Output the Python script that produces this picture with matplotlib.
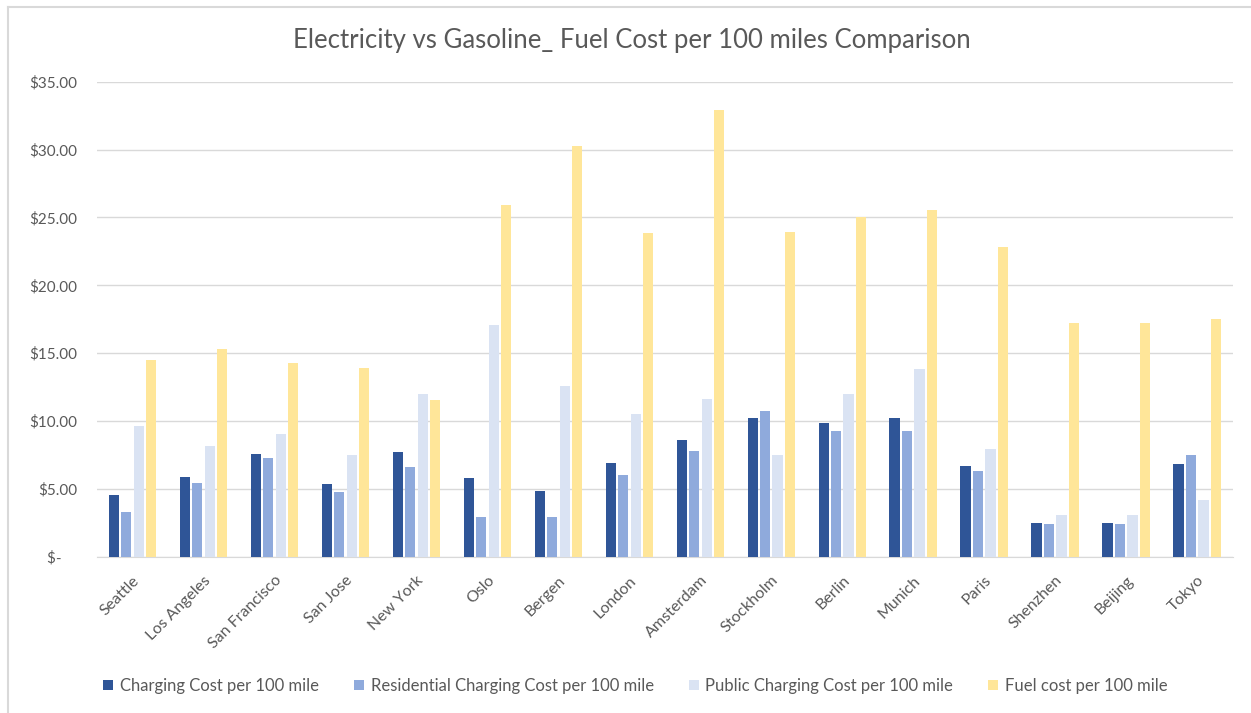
import matplotlib.pyplot as plt
from matplotlib.lines import Line2D
import numpy as np

plt.rcParams['font.family'] = ['Lato', 'DejaVu Sans']

cities = ['Seattle', 'Los Angeles', 'San Francisco', 'San Jose', 'New York', 'Oslo',
          'Bergen', 'London', 'Amsterdam', 'Stockholm', 'Berlin', 'Munich', 'Paris',
          'Shenzhen', 'Beijing', 'Tokyo']
charging = [4.54, 5.90, 7.59, 5.33, 7.69, 5.77, 4.86, 6.90, 8.62, 10.19, 9.83, 10.19,
            6.68, 2.51, 2.51, 6.80]
residential = [3.29, 5.45, 7.27, 4.77, 6.58, 2.95, 2.95, 5.99, 7.81, 10.76, 9.29, 9.29,
               6.34, 2.38, 2.38, 7.47]
public = [9.63, 8.16, 9.06, 7.47, 12.01, 17.07, 12.55, 10.51, 11.64, 7.47, 12.01, 13.80,
          7.93, 3.07, 3.07, 4.18]
fuel = [14.49, 15.28, 14.25, 13.93, 11.55, 25.89, 30.29, 23.85, 32.89, 23.95, 25.01, 25.55,
        22.82, 17.19, 17.19, 17.54]

series = [
    ('Charging Cost per 100 mile', charging, '#2F5597'),
    ('Residential Charging Cost per 100 mile', residential, '#8FAADC'),
    ('Public Charging Cost per 100 mile', public, '#DAE3F3'),
    ('Fuel cost per 100 mile', fuel, '#FFE699'),
]

fig = plt.figure(figsize=(12.51, 7.13), dpi=100)
ax = fig.add_axes([0.0775, 0.2192, 0.908, 0.6662])

x = np.arange(len(cities))
step = 0.176
width = 0.145
for i, (name, vals, color) in enumerate(series):
    ax.bar(x + (i - 1.5) * step, vals, width, color=color, label=name, zorder=3)

ax.set_xlim(-0.5, len(cities) - 0.5)
ax.set_ylim(0, 35)
yt = np.arange(0, 36, 5)
ax.set_yticks(yt)
ax.set_yticklabels(['$-    '] + ['${:.2f}'.format(v) for v in yt[1:]])
ax.yaxis.grid(True, color='#D9D9D9', linewidth=1, zorder=0)
ax.tick_params(axis='y', length=0, pad=14, labelsize=11, labelcolor='#595959')
ax.set_xticks(x)
ax.set_xticklabels(cities, rotation=45, ha='right', va='top', rotation_mode='anchor')
ax.tick_params(axis='x', length=0, pad=12, labelsize=11.5, labelcolor='#595959')
for s in ['top', 'right', 'left']:
    ax.spines[s].set_visible(False)
ax.spines['bottom'].set_color('#D9D9D9')

fig.text(0.505, 0.943, 'Electricity vs Gasoline_ Fuel Cost per 100 miles Comparison',
         ha='center', va='center', fontsize=18.5, color='#595959')

fig.legend(loc='center', bbox_to_anchor=(0.508, 0.038), ncol=4, frameon=False,
           fontsize=12, handlelength=0.6, handleheight=0.6, columnspacing=2.1,
           handletextpad=0.4, labelcolor='#595959')

# chart frame, top and left edges only
fig.add_artist(Line2D([0.0064, 0.0064], [0.0, 0.990], transform=fig.transFigure,
                      color='#D9D9D9', linewidth=1.5))
fig.add_artist(Line2D([0.0064, 1.0], [0.990, 0.990], transform=fig.transFigure,
                      color='#D9D9D9', linewidth=1.5))

fig.savefig('out.png', dpi=100)
